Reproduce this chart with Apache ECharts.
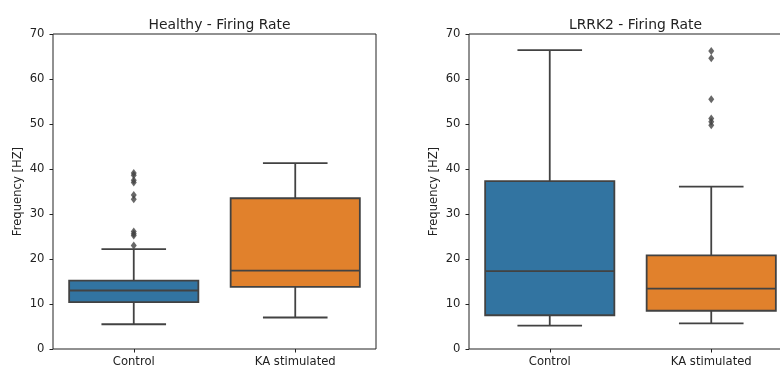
<!DOCTYPE html>
<html>
<head>
<meta charset="utf-8">
<script src="https://cdn.jsdelivr.net/npm/echarts@6/dist/echarts.min.js"></script>
<style>
  html, body { margin: 0; padding: 0; background: #fff; }
  #chart { width: 780px; height: 365px; }
</style>
</head>
<body>
<div id="chart"></div>
<script>
// Groups on the x axis
const categories = ['Control', 'KA stimulated'];

// Box summaries per group: [lower whisker, Q1, median, Q3, upper whisker]
const healthyBoxes = [
  [5.5, 10.4, 13.0, 15.2, 22.2],
  [7.0, 13.8, 17.4, 33.5, 41.3]
];
const lrrk2Boxes = [
  [5.2, 7.5, 17.3, 37.3, 66.4],
  [5.7, 8.5, 13.4, 20.8, 36.1]
];

// Outlying points: [group index, value]
const healthyOutliers = [
  [0, 39.1], [0, 38.6], [0, 37.5], [0, 37.0], [0, 34.2],
  [0, 33.3], [0, 26.1], [0, 25.6], [0, 25.2], [0, 23.0]
];
const lrrk2Outliers = [
  [1, 66.2], [1, 64.6], [1, 55.5], [1, 51.2], [1, 50.5], [1, 49.7]
];

const yTicks = { min: 0, max: 70, interval: 10 };
const boxColors = ['#3274a1', '#e1812c'];
const lineColor = '#424242';
const textColor = '#222';
const font = 'DejaVu Sans';

function renderBox(params, api) {
  const i = api.value(0);
  const lo = api.coord([i, api.value(1)]);
  const q1 = api.coord([i, api.value(2)]);
  const med = api.coord([i, api.value(3)]);
  const q3 = api.coord([i, api.value(4)]);
  const hi = api.coord([i, api.value(5)]);
  const band = api.size([1, 0])[0];
  const w = band * 0.8;
  const capHalf = w / 4;
  const cx = lo[0];
  const stroke = { stroke: lineColor, lineWidth: 1.8, fill: null };
  return {
    type: 'group',
    children: [
      { type: 'line', shape: { x1: cx, y1: lo[1], x2: cx, y2: q1[1] }, style: stroke },
      { type: 'line', shape: { x1: cx, y1: q3[1], x2: cx, y2: hi[1] }, style: stroke },
      { type: 'line', shape: { x1: cx - capHalf, y1: lo[1], x2: cx + capHalf, y2: lo[1] }, style: stroke },
      { type: 'line', shape: { x1: cx - capHalf, y1: hi[1], x2: cx + capHalf, y2: hi[1] }, style: stroke },
      {
        type: 'rect',
        shape: { x: cx - w / 2, y: q3[1], width: w, height: q1[1] - q3[1] },
        style: { fill: boxColors[i], stroke: lineColor, lineWidth: 1.8 }
      },
      { type: 'line', shape: { x1: cx - w / 2, y1: med[1], x2: cx + w / 2, y2: med[1] }, style: stroke }
    ]
  };
}

const gridLefts = [53, 469];
const plotWidth = 323;

function makeGrid(left) {
  return {
    left: left, top: 34, width: plotWidth, height: 315,
    containLabel: false, outerBoundsMode: 'none',
    show: true, borderColor: textColor, borderWidth: 1, backgroundColor: 'transparent'
  };
}

function makeXAxis(gi) {
  return {
    type: 'category', gridIndex: gi, data: categories, boundaryGap: true,
    axisLine: { show: false },
    axisTick: { show: true, alignWithLabel: true, length: 3.5, lineStyle: { color: textColor } },
    axisLabel: { color: textColor, fontSize: 11.6, fontFamily: font, margin: 7 },
    splitLine: { show: false }
  };
}

function makeYAxis(gi) {
  return {
    type: 'value', gridIndex: gi, min: yTicks.min, max: yTicks.max, interval: yTicks.interval,
    name: 'Frequency [HZ]', nameLocation: 'middle', nameGap: 29,
    nameTextStyle: { color: textColor, fontSize: 11.6, fontFamily: font },
    axisLine: { show: false },
    axisTick: { show: true, length: 3.5, lineStyle: { color: textColor } },
    axisLabel: { color: textColor, fontSize: 11.6, fontFamily: font, margin: 8.5 },
    splitLine: { show: false }
  };
}

function boxData(boxes) {
  return boxes.map((b, i) => [i].concat(b));
}

function makeTitle(text, gi) {
  return {
    text: text, left: gridLefts[gi] + plotWidth / 2, top: 13, textAlign: 'center',
    textStyle: { fontSize: 13.9, fontWeight: 'normal', color: textColor, fontFamily: font }
  };
}

const option = {
  animation: false,
  backgroundColor: '#fff',
  title: [makeTitle('Healthy - Firing Rate', 0), makeTitle('LRRK2 - Firing Rate', 1)],
  grid: [makeGrid(gridLefts[0]), makeGrid(gridLefts[1])],
  xAxis: [makeXAxis(0), makeXAxis(1)],
  yAxis: [makeYAxis(0), makeYAxis(1)],
  series: [
    {
      type: 'custom', name: 'Healthy', xAxisIndex: 0, yAxisIndex: 0,
      renderItem: renderBox, data: boxData(healthyBoxes),
      encode: { x: 0, y: [1, 2, 3, 4, 5] }
    },
    {
      type: 'scatter', xAxisIndex: 0, yAxisIndex: 0, data: healthyOutliers,
      symbol: 'diamond', symbolSize: [6, 8], itemStyle: { color: lineColor }, z: 3
    },
    {
      type: 'custom', name: 'LRRK2', xAxisIndex: 1, yAxisIndex: 1,
      renderItem: renderBox, data: boxData(lrrk2Boxes),
      encode: { x: 0, y: [1, 2, 3, 4, 5] }
    },
    {
      type: 'scatter', xAxisIndex: 1, yAxisIndex: 1, data: lrrk2Outliers,
      symbol: 'diamond', symbolSize: [6, 8], itemStyle: { color: lineColor }, z: 3
    }
  ]
};

const chart = echarts.init(document.getElementById('chart'), null, { renderer: 'canvas' });
chart.setOption(option);
</script>
</body>
</html>
